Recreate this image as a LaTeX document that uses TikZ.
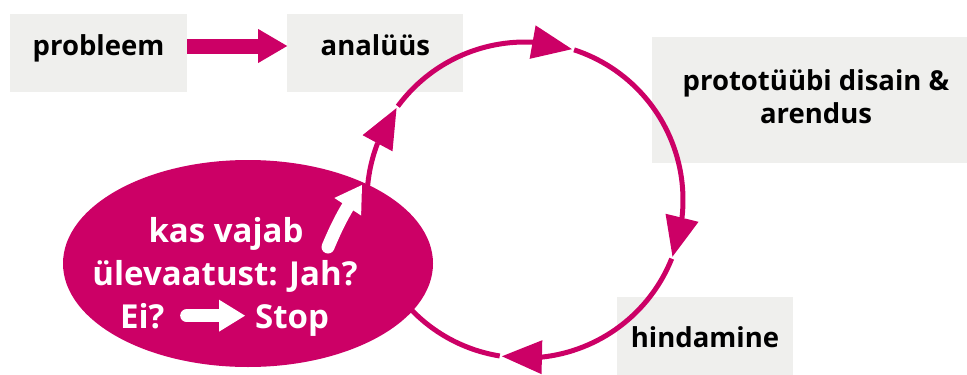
\documentclass[tikz,border=0pt]{standalone}
\usepackage{fontspec}
\setmainfont{Open Sans}
\usetikzlibrary{arrows.meta, bending, positioning, shapes.geometric}

\definecolor{cyclepink}{RGB}{204,0,102}
\definecolor{boxgray}{RGB}{239,239,237}

\begin{document}
\begin{tikzpicture}[
    x=1pt, y=-1pt,
    stagebox/.style={rectangle, fill=boxgray, inner sep=0pt, minimum height=78pt, font=\fontsize{27.5}{33}\selectfont\bfseries, text height=20pt, text depth=16pt},
    reviewtext/.style={inner sep=0pt, text=white, font=\fontsize{33}{43}\selectfont\bfseries},
    bararrow/.style={-{Triangle[length=29pt, width=34pt, line width=0pt]}, line width=15pt, cyclepink},
    ringarrow/.style={-{Triangle[length=40pt, width=34pt, line width=0pt, flex]}, line width=5pt, cyclepink},
    whitearrow/.style={-{Triangle[length=26pt, width=32pt, line width=0pt]}, line width=13pt, white, line cap=round}
]
\useasboundingbox (0,0) rectangle (967,375);
\clip (0,0) rectangle (967,375);

% Stages
\node[stagebox, minimum width=177pt] (probleem) at (98.5,53) {probleem};
\node[stagebox, minimum width=176pt, right=100pt of probleem] (analuus) {analüüs};
\node[stagebox, minimum width=328pt, minimum height=126pt, align=center, text height=, text depth=] (proto) at (816,100) {prototüübi disain \&\\arendus\vphantom{g}};
\node[stagebox, minimum width=176pt, minimum height=96pt] (hindamine) at (705,345) {hindamine};

\draw[bararrow] ([yshift=7pt]probleem.east) -- ([yshift=7pt]analuus.west);

% Cycle
\coordinate (hub) at (525,200);
\draw[ringarrow] ([shift={(-143.6:158)}]hub) arc[start angle=-143.6, end angle=-72.7, radius=158];
\draw[ringarrow] ([shift={(-71.9:158)}]hub) arc[start angle=-71.9, end angle=21, radius=158];
\draw[ringarrow] ([shift={(21.8:158)}]hub) arc[start angle=21.8, end angle=98.4, radius=158];
\draw[ringarrow] ([shift={(99.2:158)}]hub) arc[start angle=99.2, end angle=215.6, radius=158];

% Review question
\node[ellipse, fill=cyclepink, minimum width=370pt, minimum height=207pt] (review) at (248,263.5) {};
\node[reviewtext, anchor=base] (kas) at (226,242) {kas vajab};
\node[reviewtext, anchor=base] (uleva) at (225,285) {ülevaatust: Jah?};
\node[reviewtext, anchor=base west] (ei) at (120,328) {Ei?};
\node[reviewtext, anchor=base west] (stop) at (255,328) {Stop};

\coordinate (jahtail) at (328,247);
\coordinate (jahtip) at (362,185);
\draw[whitearrow] (jahtail) to[bend left=6] (jahtip);
\draw[whitearrow, shorten <=22pt, shorten >=10pt] (ei.east) -- (ei.east -| stop.west);

\end{tikzpicture}
\end{document}
